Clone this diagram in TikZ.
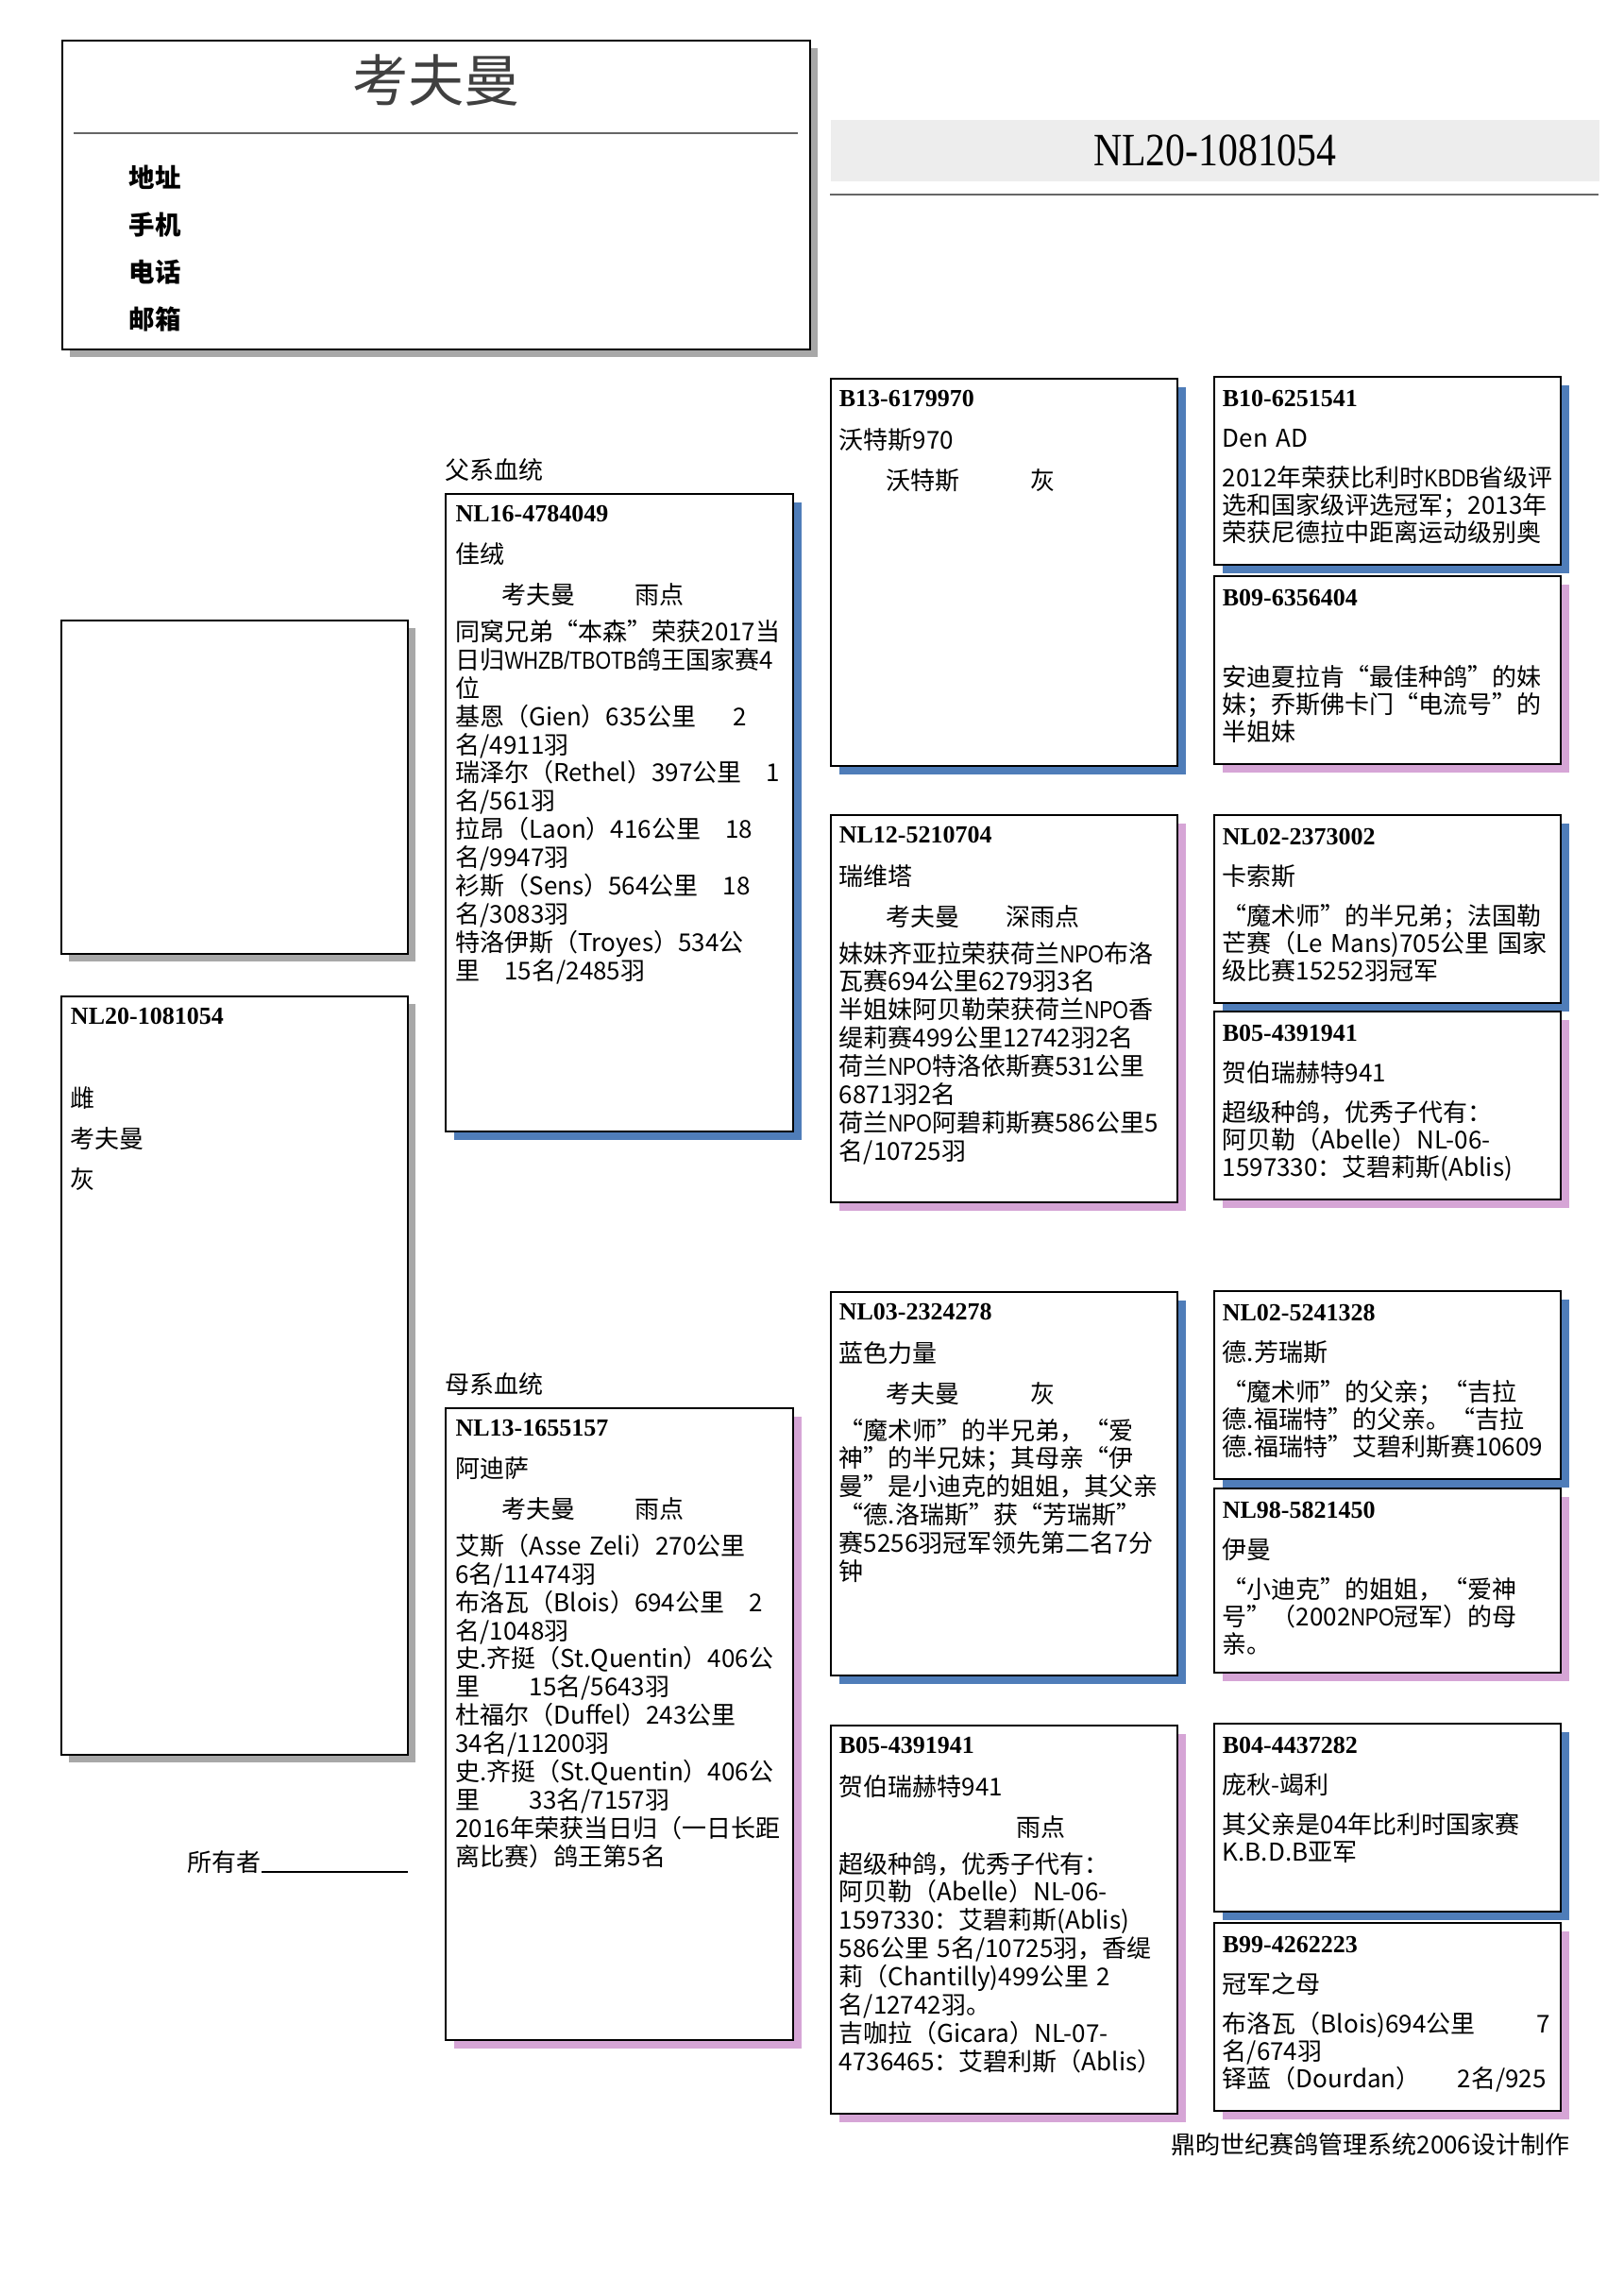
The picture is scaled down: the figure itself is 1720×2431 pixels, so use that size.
\documentclass[tikz,border=0pt]{standalone}
\usepackage{fontspec}
\setmainfont{Noto Sans CJK SC}
\newfontfamily\ringfont{Liberation Serif}
\newfontfamily\headfont{Liberation Serif}[FakeStretch=0.85]
\newfontfamily\narrowfont{Liberation Sans}[FakeStretch=0.82]
\usetikzlibrary{positioning,shadows}

\definecolor{sireblue}{HTML}{4F7DB9}
\definecolor{dampink}{HTML}{D6A5D6}
\definecolor{shadegray}{HTML}{A8A8A8}
\definecolor{bandgray}{HTML}{EDEDED}

\newcommand{\pxu}{0.3461pt}
\newcommand{\ring}[1]{{\ringfont\bfseries #1}}
\newcommand{\nar}[1]{{\narrowfont #1}}
\newcommand{\attr}[2]{\makebox[7.3em][l]{\hspace*{1.9em}#1}#2}

\begin{document}
\begin{tikzpicture}[x=0.3461pt, y=-0.3461pt, every node/.style={inner sep=0pt}]
  \tikzstyle{pbox}=[draw=black, fill=white, line width=.6pt, anchor=north west]
  \tikzstyle{sireside}=[drop shadow={shadow xshift=3pt, shadow yshift=-3pt, fill=sireblue, opacity=1}]
  \tikzstyle{damside}=[drop shadow={shadow xshift=3pt, shadow yshift=-3pt, fill=dampink, opacity=1}]
  \tikzstyle{plain}=[drop shadow={shadow xshift=2.8pt, shadow yshift=-2.8pt, fill=shadegray, opacity=1}]
  \tikzstyle{gen3}=[pbox, minimum width=367*\pxu, minimum height=410*\pxu]
  \tikzstyle{gen4}=[pbox, minimum width=367*\pxu, minimum height=199*\pxu]
  \tikzstyle{info}=[align=left, text width=125pt, font=\fontsize{9pt}{10.35pt}\selectfont]
  \tikzstyle{info4}=[info, font=\fontsize{9pt}{9.95pt}\selectfont]

  \fill[white] (0,0) rectangle (1720,2431);
  \useasboundingbox (0,0) rectangle (1720,2431);

  % owner header
  \node[pbox, plain, line width=.8pt, minimum width=792*\pxu, minimum height=327*\pxu] (head) at (65,42) {};
  \node[font=\fontsize{20.5pt}{24pt}\selectfont, text=black!75] (title) at (462,85) {考夫曼};
  \draw[black!60, line width=1pt] (78,141) -- (845,141);
  \foreach \lbl [count=\i] in {地址,手机,电话,邮箱}
    \node[anchor=west, font=\bfseries\fontsize{9.5pt}{11pt}\selectfont] (contact\i) at (136,{138+50*\i}) {\lbl};

  \node[pbox, fill=bandgray, draw=none, minimum width=814*\pxu, minimum height=65*\pxu] (band) at (879,126)
    {\headfont\fontsize{17pt}{20pt}\selectfont NL20-1081054};
  \draw[black!60, line width=1pt] (879,206) -- (1693,206);

  % the bird itself
  \node[pbox, plain, minimum width=367*\pxu, minimum height=353*\pxu] (photo) at (64,656) {};
  \node[pbox, plain, minimum width=367*\pxu, minimum height=803*\pxu] (bird) at (64,1054) {};
  \node[info, below right=4.5pt and 3.6pt of bird.north west] (birdT)
    {\ring{NL20-1081054}\\[20pt] 雌\\[4.6pt] 考夫曼\\[4.6pt] 灰};

  \node[anchor=west, font=\fontsize{9pt}{11pt}\selectfont] (owner) at (198,1972) {所有者};
  \draw[line width=.5pt] (owner.base east) -- ++(155,0);

  % parents
  \node[pbox, sireside, minimum width=368*\pxu, minimum height=675*\pxu] (sire) at (471,522) {};
  \node[above right=4pt and 0pt of sire.north west, font=\fontsize{9pt}{11pt}\selectfont] (sireL) {父系血统};
  \node[info, below right=4.3pt and 3.8pt of sire.north west] (sireT)
    {\ring{NL16-4784049}\\[5pt]
     佳绒\\[4.6pt]
     \attr{考夫曼}{雨点}\\[3pt]
     同窝兄弟“本森”荣获2017当\\
     日归\nar{WHZB/TBOTB}鸽王国家赛4\\
     位\\
     基恩（Gien）635公里\hspace{1.5em}2\\
     名/4911羽\\
     瑞泽尔（Rethel）397公里\hspace{1em}1\\
     名/561羽\\
     拉昂（Laon）416公里\hspace{1em}18\\
     名/9947羽\\
     衫斯（Sens）564公里\hspace{1em}18\\
     名/3083羽\\
     特洛伊斯（Troyes）534公\\
     里\hspace{1em}15名/2485羽};

  \node[pbox, damside, minimum width=368*\pxu, minimum height=669*\pxu] (dam) at (471,1490) {};
  \node[above right=4pt and 0pt of dam.north west, font=\fontsize{9pt}{11pt}\selectfont] (damL) {母系血统};
  \node[info, below right=4.3pt and 3.8pt of dam.north west] (damT)
    {\ring{NL13-1655157}\\[5pt]
     阿迪萨\\[4.6pt]
     \attr{考夫曼}{雨点}\\[3pt]
     艾斯（Asse Zeli）270公里\\
     6名/11474羽\\
     布洛瓦（Blois）694公里\hspace{1em}2\\
     名/1048羽\\
     史.齐挺（St.Quentin）406公\\
     里\hspace{2em}15名/5643羽\\
     杜福尔（Duffel）243公里\\
     34名/11200羽\\
     史.齐挺（St.Quentin）406公\\
     里\hspace{2em}33名/7157羽\\
     2016年荣获当日归（一日长距\\
     离比赛）鸽王第5名};

  % grandparents
  \node[gen3, sireside] (ss) at (879,400) {};
  \node[info, below right=4.5pt and 3.2pt of ss.north west] (ssT)
    {\ring{B13-6179970}\\[5pt]
     沃特斯970\\[4.6pt]
     \attr{沃特斯}{\hspace{0.5em}灰}};

  \node[gen3, damside] (sd) at (879,862) {};
  \node[info, below right=4.5pt and 3.2pt of sd.north west] (sdT)
    {\ring{NL12-5210704}\\[5pt]
     瑞维塔\\[4.6pt]
     \makebox[6.8em][l]{\hspace*{1.9em}考夫曼}深雨点\\[3pt]
     妹妹齐亚拉荣获荷兰\nar{NPO}布洛\\
     瓦赛694公里6279羽3名\\
     半姐妹阿贝勒荣获荷兰\nar{NPO}香\\
     缇莉赛499公里12742羽2名\\
     荷兰\nar{NPO}特洛依斯赛531公里\\
     6871羽2名\\
     荷兰\nar{NPO}阿碧莉斯赛586公里5\\
     名/10725羽};

  \node[gen3, sireside, minimum height=406*\pxu] (ds) at (879,1367) {};
  \node[info, below right=4.5pt and 3.2pt of ds.north west] (dsT)
    {\ring{NL03-2324278}\\[5pt]
     蓝色力量\\[4.6pt]
     \attr{考夫曼}{\hspace{0.5em}灰}\\[3pt]
     “魔术师”的半兄弟，“爱\\
     神”的半兄妹；其母亲“伊\\
     曼”是小迪克的姐姐，其父亲\\
     “德.洛瑞斯”获“芳瑞斯”\\
     赛5256羽冠军领先第二名7分\\
     钟};

  \node[gen3, damside, minimum height=411*\pxu] (dd) at (879,1826) {};
  \node[info, below right=4.5pt and 3.2pt of dd.north west] (ddT)
    {\ring{B05-4391941}\\[5pt]
     贺伯瑞赫特941\\[4.6pt]
     \hspace*{7.2em}雨点\\[3pt]
     超级种鸽，优秀子代有：\\
     阿贝勒（Abelle）NL-06-\\
     1597330：艾碧莉斯(Ablis)\\
     586公里 5名/10725羽，香缇\\
     莉（Chantilly)499公里 2\\
     名/12742羽。\\
     吉咖拉（Gicara）NL-07-\\
     4736465：艾碧利斯（Ablis）};

  % great-grandparents
  \node[gen4, sireside] (sss) at (1285,398) {};
  \node[info4, below right=5pt and 3.2pt of sss.north west] (sssT)
    {\ring{B10-6251541}\\[5pt]
     Den AD\\[4.6pt]
     2012年荣获比利时\nar{KBDB}省级评\\
     选和国家级评选冠军；2013年\\
     荣获尼德拉中距离运动级别奥};

  \node[gen4, damside] (ssd) at (1285,609) {};
  \node[info4, below right=5pt and 3.2pt of ssd.north west] (ssdT)
    {\ring{B09-6356404}\\[5pt]
     \mbox{}\\[4.6pt]
     安迪夏拉肯“最佳种鸽”的妹\\
     妹；乔斯佛卡门“电流号”的\\
     半姐妹};

  \node[gen4, sireside] (sds) at (1285,862) {};
  \node[info4, below right=5pt and 3.2pt of sds.north west] (sdsT)
    {\ring{NL02-2373002}\\[5pt]
     卡索斯\\[4.6pt]
     “魔术师”的半兄弟；法国勒\\
     芒赛（Le Mans)705公里 国家\\
     级比赛15252羽冠军};

  \node[gen4, damside] (sdd) at (1285,1070) {};
  \node[info4, below right=5pt and 3.2pt of sdd.north west] (sddT)
    {\ring{B05-4391941}\\[5pt]
     贺伯瑞赫特941\\[4.6pt]
     超级种鸽，优秀子代有：\\
     阿贝勒（Abelle）NL-06-\\
     1597330：艾碧莉斯(Ablis)};

  \node[gen4, sireside] (dss) at (1285,1366) {};
  \node[info4, below right=5pt and 3.2pt of dss.north west] (dssT)
    {\ring{NL02-5241328}\\[5pt]
     德.芳瑞斯\\[4.6pt]
     “魔术师”的父亲；“吉拉\\
     德.福瑞特”的父亲。“吉拉\\
     德.福瑞特”艾碧利斯赛10609};

  \node[gen4, damside, minimum height=195*\pxu] (dsd) at (1285,1575) {};
  \node[info4, below right=5pt and 3.2pt of dsd.north west] (dsdT)
    {\ring{NL98-5821450}\\[5pt]
     伊曼\\[4.6pt]
     “小迪克”的姐姐，“爱神\\
     号”（2002\nar{NPO}冠军）的母\\
     亲。};

  \node[gen4, sireside] (dds) at (1285,1824) {};
  \node[info4, below right=5pt and 3.2pt of dds.north west] (ddsT)
    {\ring{B04-4437282}\\[5pt]
     庞秋-竭利\\[4.6pt]
     其父亲是04年比利时国家赛\\
     K.B.D.B亚军};

  \node[gen4, damside] (ddd) at (1285,2035) {};
  \node[info4, below right=5pt and 3.2pt of ddd.north west] (dddT)
    {\ring{B99-4262223}\\[5pt]
     冠军之母\\[4.6pt]
     布洛瓦（Blois)694公里\hspace{2.5em}7\\
     名/674羽\\
     铎蓝（Dourdan）\nobreak\hspace{1.5em}2名/925};

  \node[anchor=east, font=\fontsize{9pt}{11pt}\selectfont] (credit) at (1663,2271)
    {鼎昀世纪赛鸽管理系统2006设计制作};
\end{tikzpicture}
\end{document}
